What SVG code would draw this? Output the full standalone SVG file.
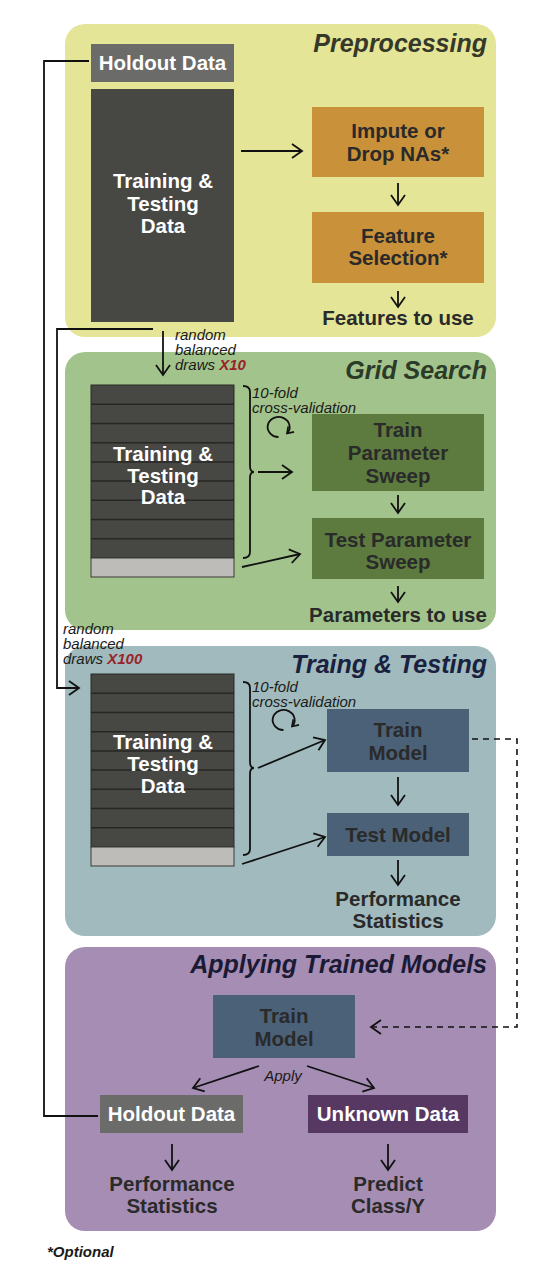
<svg xmlns="http://www.w3.org/2000/svg" width="537" height="1284" viewBox="0 0 537 1284">
<defs>
<style>
.t{font-family:"Liberation Sans",Arial,sans-serif;font-weight:bold;font-size:20.5px;fill:#2a2a2a;text-anchor:middle}
.w{fill:#ffffff}
.ttl{font-family:"Liberation Sans",Arial,sans-serif;font-weight:bold;font-style:italic;font-size:25px;text-anchor:end}
.it{font-family:"Liberation Sans",Arial,sans-serif;font-style:italic;font-size:15px;fill:#1a1a1a}
.red{fill:#9a2328;font-weight:bold}
.ln{fill:none;stroke:#111;stroke-width:1.8}
.dash{fill:none;stroke:#111;stroke-width:1.6;stroke-dasharray:6,5}
.sep{stroke:#262624;stroke-width:1.5}
</style>
<marker id="ah" markerUnits="userSpaceOnUse" markerWidth="14" markerHeight="18" refX="11" refY="8" orient="auto">
<path d="M1,1 L11,8 L1,15" fill="none" stroke="#111" stroke-width="1.8"/>
</marker>
<marker id="ahs" markerUnits="userSpaceOnUse" markerWidth="10" markerHeight="12" refX="7" refY="5" orient="auto">
<path d="M1,1 L7,5 L1,9" fill="none" stroke="#111" stroke-width="1.6"/>
</marker>
</defs>
<rect width="537" height="1284" fill="#ffffff"/>

<g id="panel-preprocessing">
<rect x="65" y="24" width="431" height="313" rx="20" fill="#e4e597"/>
<text class="ttl" x="487" y="52" fill="#36382a">Preprocessing</text>
</g>
<g id="panel-grid">
<rect x="65" y="352" width="431" height="278" rx="20" fill="#a2c48c"/>
<text class="ttl" x="487" y="379" fill="#2c3a28">Grid Search</text>
</g>
<g id="panel-train">
<rect x="65" y="646" width="431" height="290" rx="20" fill="#a0babd"/>
<text class="ttl" x="487" y="673" fill="#1a2040">Traing &amp; Testing</text>
</g>
<g id="panel-apply">
<rect x="65" y="947" width="431" height="284" rx="20" fill="#a58db4"/>
<text class="ttl" x="487" y="973" fill="#1b1a35">Applying Trained Models</text>
</g>

<g id="holdout-top">
<rect x="91" y="44" width="143" height="38" fill="#6b6b69"/>
<text class="t w" x="162.5" y="70">Holdout Data</text>
</g>
<g id="data-pre">
<rect x="91" y="89" width="143" height="233" fill="#474743"/>
<text class="t w" x="163" y="188">Training &amp;</text>
<text class="t w" x="163" y="211">Testing</text>
<text class="t w" x="163" y="233">Data</text>
</g>
<g id="impute">
<rect x="312" y="107" width="172" height="70" fill="#c99139"/>
<text class="t" x="398" y="138">Impute or</text>
<text class="t" x="398" y="161">Drop NAs*</text>
</g>
<g id="feature">
<rect x="312" y="212" width="172" height="71" fill="#c99139"/>
<text class="t" x="398" y="243">Feature</text>
<text class="t" x="398" y="265">Selection*</text>
</g>
<g id="features-use">
<text class="t" x="398" y="325">Features to use</text>
</g>

<g id="data-grid">
<rect x="91" y="385" width="143" height="173" fill="#474743" stroke="#2a2a28" stroke-width="1"/>
<line class="sep" x1="91" y1="404.2" x2="234" y2="404.2"/>
<line class="sep" x1="91" y1="423.4" x2="234" y2="423.4"/>
<line class="sep" x1="91" y1="442.7" x2="234" y2="442.7"/>
<line class="sep" x1="91" y1="461.9" x2="234" y2="461.9"/>
<line class="sep" x1="91" y1="481.1" x2="234" y2="481.1"/>
<line class="sep" x1="91" y1="500.3" x2="234" y2="500.3"/>
<line class="sep" x1="91" y1="519.6" x2="234" y2="519.6"/>
<line class="sep" x1="91" y1="538.8" x2="234" y2="538.8"/>
<rect x="91" y="558" width="143" height="19" fill="#bdbcb8" stroke="#3a3a38" stroke-width="1"/>
<text class="t w" x="163" y="461">Training &amp;</text>
<text class="t w" x="163" y="482.5">Testing</text>
<text class="t w" x="163" y="504">Data</text>
</g>
<g id="train-sweep">
<rect x="312" y="414" width="172" height="77" fill="#5d7a3f"/>
<text class="t" x="398" y="437">Train</text>
<text class="t" x="398" y="460">Parameter</text>
<text class="t" x="398" y="483">Sweep</text>
</g>
<g id="test-sweep">
<rect x="312" y="518" width="172" height="61" fill="#5d7a3f"/>
<text class="t" x="398" y="547">Test Parameter</text>
<text class="t" x="398" y="569">Sweep</text>
</g>
<g id="params-use">
<text class="t" x="398" y="622">Parameters to use</text>
</g>

<g id="data-train">
<rect x="91" y="674" width="143" height="173" fill="#474743" stroke="#2a2a28" stroke-width="1"/>
<line class="sep" x1="91" y1="693.2" x2="234" y2="693.2"/>
<line class="sep" x1="91" y1="712.4" x2="234" y2="712.4"/>
<line class="sep" x1="91" y1="731.7" x2="234" y2="731.7"/>
<line class="sep" x1="91" y1="750.9" x2="234" y2="750.9"/>
<line class="sep" x1="91" y1="770.1" x2="234" y2="770.1"/>
<line class="sep" x1="91" y1="789.3" x2="234" y2="789.3"/>
<line class="sep" x1="91" y1="808.6" x2="234" y2="808.6"/>
<line class="sep" x1="91" y1="827.8" x2="234" y2="827.8"/>
<rect x="91" y="847" width="143" height="19" fill="#bdbcb8" stroke="#3a3a38" stroke-width="1"/>
<text class="t w" x="163" y="749">Training &amp;</text>
<text class="t w" x="163" y="771">Testing</text>
<text class="t w" x="163" y="793">Data</text>
</g>
<g id="train-model">
<rect x="327" y="709" width="142" height="63" fill="#4a6178"/>
<text class="t" x="398" y="737">Train</text>
<text class="t" x="398" y="760">Model</text>
</g>
<g id="test-model">
<rect x="327" y="813" width="142" height="43" fill="#4a6178"/>
<text class="t" x="398" y="842">Test Model</text>
</g>
<g id="perf-stats">
<text class="t" x="398" y="906">Performance</text>
<text class="t" x="398" y="928">Statistics</text>
</g>

<g id="train-model-2">
<rect x="213" y="995" width="142" height="63" fill="#4a6178"/>
<text class="t" x="284" y="1023">Train</text>
<text class="t" x="284" y="1046">Model</text>
</g>
<g id="holdout-bottom">
<rect x="100" y="1095" width="143" height="38" fill="#6b6b69"/>
<text class="t w" x="171.5" y="1121">Holdout Data</text>
</g>
<g id="unknown">
<rect x="308" y="1095" width="160" height="38" fill="#573862"/>
<text class="t w" x="388" y="1121">Unknown Data</text>
</g>
<g id="perf-stats-2">
<text class="t" x="172" y="1191">Performance</text>
<text class="t" x="172" y="1213">Statistics</text>
</g>
<g id="predict">
<text class="t" x="388" y="1191">Predict</text>
<text class="t" x="388" y="1213">Class/Y</text>
</g>

<g id="labels">
<text class="it" x="175" y="340">random</text>
<text class="it" x="175" y="355">balanced</text>
<text class="it" x="175" y="370">draws <tspan class="red">X10</tspan></text>
<text class="it" x="63" y="634">random</text>
<text class="it" x="63" y="649">balanced</text>
<text class="it" x="63" y="664">draws <tspan class="red">X100</tspan></text>
<text class="it" x="252" y="398">10-fold</text>
<text class="it" x="252" y="413">cross-validation</text>
<text class="it" x="252" y="692">10-fold</text>
<text class="it" x="252" y="707">cross-validation</text>
<text class="it" x="283" y="1081" text-anchor="middle">Apply</text>
<text class="it" x="47" y="1257" font-weight="bold" font-size="16.5">*Optional</text>
</g>

<g id="connectors">
<polyline class="ln" points="89,61 44,61 44,1116 98,1116"/>
<polyline class="ln" points="153,329 57,329 57,688 79,688" marker-end="url(#ah)"/>
<line class="ln" x1="163" y1="331" x2="163" y2="375" marker-end="url(#ah)"/>
<line class="ln" x1="241" y1="151" x2="302" y2="151" marker-end="url(#ah)"/>
<line class="ln" x1="398" y1="183" x2="398" y2="205" marker-end="url(#ah)"/>
<line class="ln" x1="398" y1="291" x2="398" y2="307" marker-end="url(#ah)"/>
<path class="ln" d="M243,386 Q250,386 250,392 L250,466 Q250,472 254,472 Q250,472 250,478 L250,552 Q250,558 243,558" stroke-width="1.5"/>
<path class="ln" d="M278.5,437 A11,10 0 1 1 287,433.5" stroke-width="1.7" marker-end="url(#ahs)"/>
<line class="ln" x1="258" y1="472" x2="292" y2="472" marker-end="url(#ah)"/>
<line class="ln" x1="242" y1="567" x2="300" y2="554" marker-end="url(#ah)"/>
<line class="ln" x1="398" y1="495" x2="398" y2="513" marker-end="url(#ah)"/>
<line class="ln" x1="398" y1="586" x2="398" y2="602" marker-end="url(#ah)"/>
<path class="ln" d="M243,682 Q250,682 250,688 L250,762 Q250,768 254,768 Q250,768 250,774 L250,849 Q250,855 243,855" stroke-width="1.5"/>
<path class="ln" d="M283.5,730 A11,10 0 1 1 292,726.5" stroke-width="1.7" marker-end="url(#ahs)"/>
<line class="ln" x1="258" y1="768" x2="325" y2="740" marker-end="url(#ah)"/>
<line class="ln" x1="242" y1="864" x2="325" y2="837" marker-end="url(#ah)"/>
<line class="ln" x1="398" y1="777" x2="398" y2="805" marker-end="url(#ah)"/>
<line class="ln" x1="398" y1="860" x2="398" y2="885" marker-end="url(#ah)"/>
<polyline class="dash" points="472,739 517,739 517,1027 371,1027" marker-end="url(#ah)"/>
<line class="ln" x1="259" y1="1066" x2="193" y2="1088" marker-end="url(#ah)"/>
<line class="ln" x1="307" y1="1066" x2="374" y2="1088" marker-end="url(#ah)"/>
<line class="ln" x1="172" y1="1144" x2="172" y2="1170" marker-end="url(#ah)"/>
<line class="ln" x1="388" y1="1144" x2="388" y2="1170" marker-end="url(#ah)"/>
</g>
</svg>
